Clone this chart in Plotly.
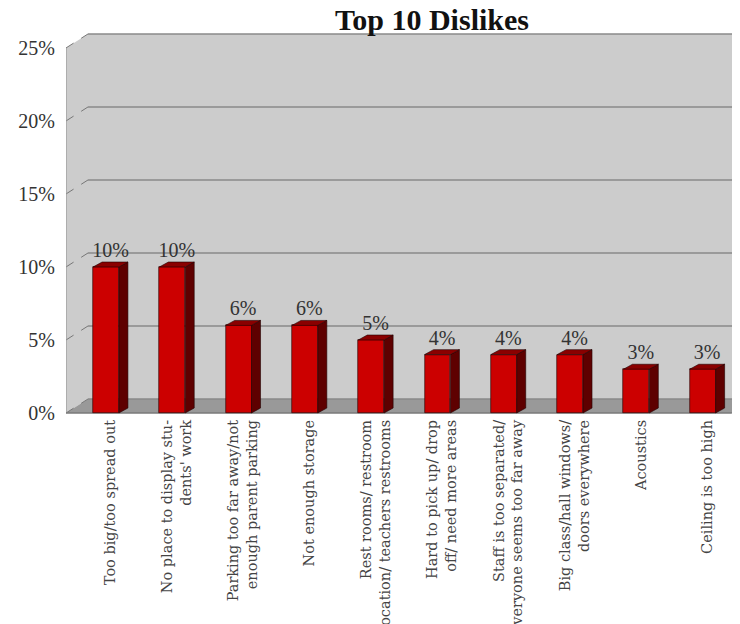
import plotly.graph_objects as go

# ---------------- data ----------------
categories = [
    "Too big/too spread out",
    "No place to display stu-<br>dents' work",
    "Parking too far away/not<br>enough parent parking",
    "Not enough storage",
    "Rest rooms/ restroom<br>location/ teachers restrooms",
    "Hard to pick up/ drop<br>off/ need more areas",
    "Staff is too separated/<br>veryone seems too far away",
    "Big class/hall windows/<br>doors everywhere",
    "Acoustics",
    "Ceiling is too high",
]
values = [10, 10, 6, 6, 5, 4, 4, 4, 3, 3]
value_labels = ["10%", "10%", "6%", "6%", "5%", "4%", "4%", "4%", "3%", "3%"]
y_ticks = [0, 5, 10, 15, 20, 25]
y_tick_labels = ["0%", "5%", "10%", "15%", "20%", "25%"]
title_text = "Top 10 Dislikes"

# ---------------- geometry / style ----------------
X0, X1 = -0.603, 9.44      # front floor extents (category units)
XMAX = 9.563
YMIN, YMAX = -0.205, 26.23
DX, DY = 0.332, 0.96       # wall depth offset
BW = 0.39                  # bar front width
BDX, BDY = 0.136, 0.34     # bar depth offset
YTOP = y_ticks[-1]

WALL = "#cccccc"
FLOOR = "#999999"
GRID = "#8a8a8a"
FRONT = "#cc0000"
SIDE = "#5e0000"
TOP = "#8a0000"

# page body has an 8px margin: figure is sized/offset to compensate
FIG_W, FIG_H = 732, 616

idx = list(range(len(values)))

fig = go.Figure()

# front faces
fig.add_trace(go.Bar(
    x=idx, y=values, width=BW,
    marker=dict(color=FRONT, line=dict(color="#200000", width=0.6)),
    hoverinfo="skip", showlegend=False,
))

# side faces
sx, sy = [], []
for i, v in zip(idx, values):
    r = i + BW / 2
    sx += [r, r + BDX, r + BDX, r, r, None]
    sy += [0, BDY, v + BDY, v, 0, None]
fig.add_trace(go.Scatter(
    x=sx, y=sy, mode="lines", fill="toself", fillcolor=SIDE,
    line=dict(color="#200000", width=0.6), hoverinfo="skip", showlegend=False,
))

# top faces
tx, ty = [], []
for i, v in zip(idx, values):
    l, r = i - BW / 2, i + BW / 2
    tx += [l, r, r + BDX, l + BDX, l, None]
    ty += [v, v, v + BDY, v + BDY, v, None]
fig.add_trace(go.Scatter(
    x=tx, y=ty, mode="lines", fill="toself", fillcolor=TOP,
    line=dict(color="#200000", width=0.6), hoverinfo="skip", showlegend=False,
))

# value labels
fig.add_trace(go.Scatter(
    x=[i + BDX / 2 for i in idx], y=[v + BDY for v in values],
    mode="text", text=value_labels, textposition="top center",
    textfont=dict(family="Liberation Serif", size=20, color="#333333"),
    hoverinfo="skip", showlegend=False,
))

shapes = []
# left side wall
shapes.append(dict(type="path", xref="x", yref="y", layer="below",
                   path=f"M {X0},0 L {X0},{YTOP} L {X0+DX},{YTOP+DY} L {X0+DX},{DY} Z",
                   fillcolor=WALL, line=dict(width=0)))
# back wall
shapes.append(dict(type="rect", xref="x", yref="y", layer="below",
                   x0=X0 + DX, x1=X1 + DX + 1, y0=DY, y1=YTOP + DY,
                   fillcolor=WALL, line=dict(width=0)))
# floor
shapes.append(dict(type="path", xref="x", yref="y", layer="below",
                   path=f"M {X0},0 L {X1},0 L {X1+DX},{DY} L {X0+DX},{DY} Z",
                   fillcolor=FLOOR, line=dict(width=0)))
# gridlines on back wall + dashed diagonals on side wall
for v in y_ticks:
    shapes.append(dict(type="line", xref="x", yref="y", layer="below",
                       x0=X0 + DX, x1=X1 + DX + 1, y0=v + DY, y1=v + DY,
                       line=dict(color=GRID, width=1.5)))
    shapes.append(dict(type="line", xref="x", yref="y", layer="below",
                       x0=X0, x1=X0 + DX, y0=v, y1=v + DY,
                       line=dict(color="#777777", width=1, dash="dash")))
# front left edge
shapes.append(dict(type="line", xref="x", yref="y", layer="below",
                   x0=X0, x1=X0, y0=0, y1=YTOP,
                   line=dict(color="#999999", width=1.2)))
# floor front edge and right edge
shapes.append(dict(type="line", xref="x", yref="y", layer="below",
                   x0=X0, x1=X1, y0=0, y1=0,
                   line=dict(color="#7a7a7a", width=1.5)))
shapes.append(dict(type="line", xref="x", yref="y", layer="below",
                   x0=X1, x1=X1 + DX, y0=0, y1=DY,
                   line=dict(color="#7a7a7a", width=1.2)))

fig.update_layout(
    width=FIG_W, height=FIG_H,
    margin=dict(l=58, r=0, t=22, b=208),
    paper_bgcolor="white", plot_bgcolor="white",
    shapes=shapes,
    showlegend=False,
    bargap=0,
    title=dict(text=f"<b>{title_text}</b>", xref="container", yref="container",
               x=424 / FIG_W, xanchor="center", y=1 - 1 / FIG_H, yanchor="top",
               pad=dict(t=0, b=0, l=0, r=0),
               font=dict(family="Liberation Serif", size=30, color="#111111")),
    xaxis=dict(range=[X0, XMAX], tickmode="array",
               tickvals=[i + BDX / 2 for i in idx], ticktext=categories,
               tickangle=-90, showgrid=False, zeroline=False, showline=False,
               ticks="",
               tickfont=dict(family="DejaVu Serif", size=14.5, color="#444444"),
               automargin=False, fixedrange=True),
    yaxis=dict(range=[YMIN, YMAX], tickmode="array", tickvals=y_ticks,
               ticktext=y_tick_labels, showgrid=False, zeroline=False,
               showline=False, ticks="outside", ticklen=6,
               tickcolor="rgba(0,0,0,0)",
               tickfont=dict(family="Liberation Serif", size=20, color="#333333"),
               automargin=False, fixedrange=True),
)

fig.write_html("out.html")
